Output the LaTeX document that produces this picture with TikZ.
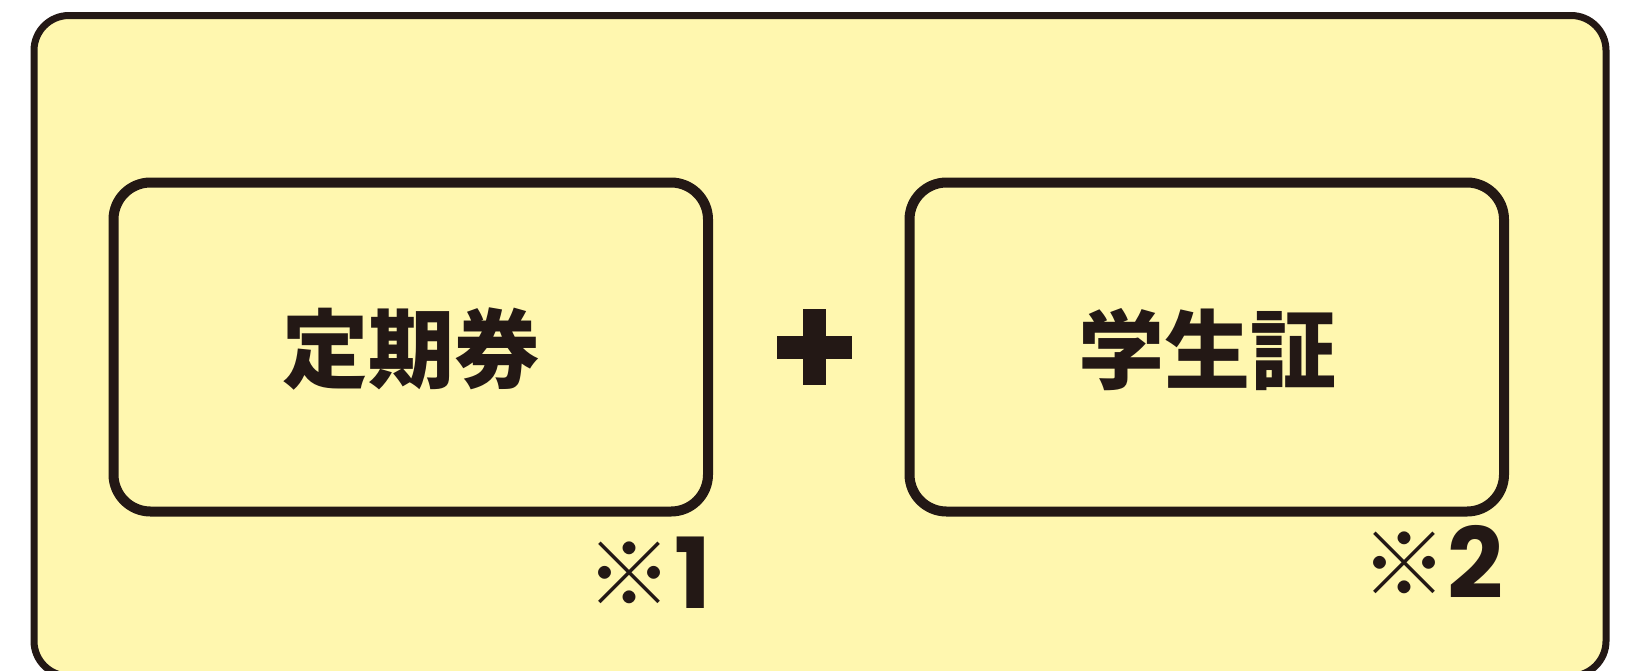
\documentclass[tikz,border=0pt]{standalone}
\usepackage{fontspec}
\newfontfamily\jpfont{Noto Sans CJK JP Black}
\newfontfamily\markfont{Noto Sans CJK JP}
\newfontfamily\numfont{Poppins}
\newcommand\numtext[1]{{\numfont\bfseries\fontsize{98}{110}\selectfont #1}}
\definecolor{ink}{HTML}{231815}
\definecolor{pale}{HTML}{FFF7AF}
\tikzset{
  ticketbox/.style={draw=ink, line width=10pt, rounded corners=37pt},
  bigtext/.style={font=\jpfont\fontsize{86}{96}\selectfont, text=ink, inner sep=0pt},
  marktext/.style={font=\markfont\fontsize{86}{96}\selectfont, text=ink, inner sep=0pt},
  digittext/.style={text=ink, inner sep=0pt, anchor=base},
}
\begin{document}
\begin{tikzpicture}[x=1pt,y=-1pt]
\useasboundingbox (0,0) rectangle (1637,670);
\begin{scope}
\clip (0,0) rectangle (1637,670);
\fill[white] (0,0) rectangle (1637,670);
\draw[draw=ink, fill=pale, line width=7pt, rounded corners=35pt] (34,15.5) rectangle (1606,676);
\end{scope}
\draw[ticketbox] (113.5,182.5) rectangle (708,511.5);
\draw[ticketbox] (909.5,182.5) rectangle (1504,511.5);
\node[bigtext] (t1) at (411,349) {定期券};
\node[bigtext] (t2) at (1207,350) {学生証};
\fill[ink] (802.7,309) rectangle (825.7,384.7);
\fill[ink] (776.7,336) rectangle (852.3,358.7);
\node[marktext] (m1) at (629,574) {※};
\node[digittext] (d1) at (693,608) {\numtext{1}};
\node[marktext] (m2) at (1404.5,563.5) {※};
\node[digittext] (d2) at (1475,598) {\numtext{2}};
\end{tikzpicture}
\end{document}
